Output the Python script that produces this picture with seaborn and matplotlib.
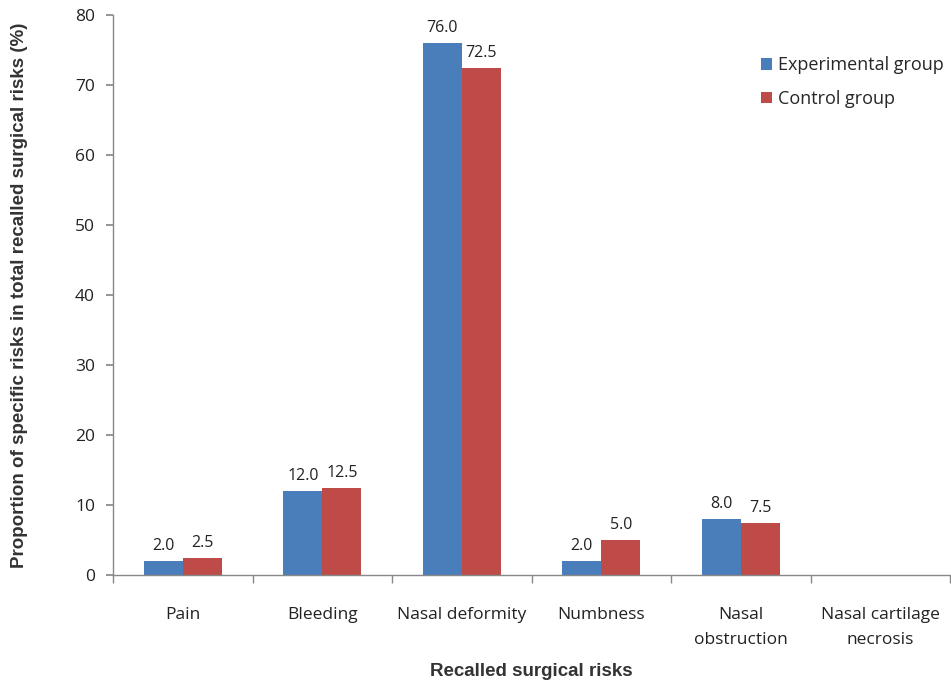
import matplotlib
matplotlib.use("Agg")
import matplotlib.pyplot as plt
from matplotlib.patches import Patch
import seaborn as sns
import pandas as pd

categories = ["Pain", "Bleeding", "Nasal deformity", "Numbness", "Nasal\nobstruction", "Nasal cartilage\nnecrosis"]
experimental = [2.0, 12.0, 76.0, 2.0, 8.0, 0.0]
control = [2.5, 12.5, 72.5, 5.0, 7.5, 0.0]
series_names = ["Experimental group", "Control group"]
colors = ["#4A7EBB", "#BE4B48"]

df = pd.DataFrame({
    "category": categories * 2,
    "value": experimental + control,
    "group": [series_names[0]] * len(categories) + [series_names[1]] * len(categories),
})

sns.set_theme(style="white")
plt.rcParams['font.family'] = ['Open Sans', 'DejaVu Sans']

fig = plt.figure(figsize=(9.51, 6.83), dpi=100)
ax = fig.add_axes([0.119, 0.158, 0.880, 0.820])

sns.barplot(data=df, x="category", y="value", hue="group", palette=colors,
            width=0.56, ax=ax, legend=False, saturation=1, linewidth=0)

for cont in ax.containers:
    labels = [f"{v:.1f}" if v > 0 else "" for v in cont.datavalues]
    ax.bar_label(cont, labels=labels, padding=5, fontsize=11.5, color="#222222")

ax.set_ylim(0, 80)
ax.set_yticks(range(0, 81, 10))
ax.set_xlim(-0.5, len(categories) - 0.5)
ax.set_xticks(range(len(categories)))
ax.set_xticklabels(categories, fontsize=12.5, color="#222222", linespacing=1.75)
ax.set_xticks([i - 0.5 for i in range(len(categories) + 1)], minor=True)
ax.tick_params(axis="x", which="major", length=0, pad=23)
ax.tick_params(axis="x", which="minor", length=6, color="#888888", direction="out", bottom=True)
ax.tick_params(axis="y", length=5, color="#888888", direction="out", left=True, labelsize=12.5, labelcolor="#222222", pad=8)

for s in ["top", "right"]:
    ax.spines[s].set_visible(False)
for s in ["left", "bottom"]:
    ax.spines[s].set_color("#888888")
    ax.spines[s].set_linewidth(1.0)

ax.set_xlabel("Recalled surgical risks", fontsize=13.5, fontweight="bold",
              family=["Liberation Sans", "DejaVu Sans"], color="#333333")
ax.xaxis.set_label_coords(0.5, -0.157)
ax.set_ylabel("Proportion of specific risks in total recalled surgical risks (%)", fontsize=13.5,
              fontweight="bold", family=["Liberation Sans", "DejaVu Sans"], color="#333333")
ax.yaxis.set_label_coords(-0.102, 0.5)

handles = [Patch(facecolor=c, edgecolor="none") for c in colors]
ax.legend(handles, series_names, loc="upper left", bbox_to_anchor=(0.755, 0.955), frameon=False,
          fontsize=13, handlelength=0.6, handleheight=0.6, handletextpad=0.35, labelspacing=0.85)

fig.savefig("out.png", dpi=100)
